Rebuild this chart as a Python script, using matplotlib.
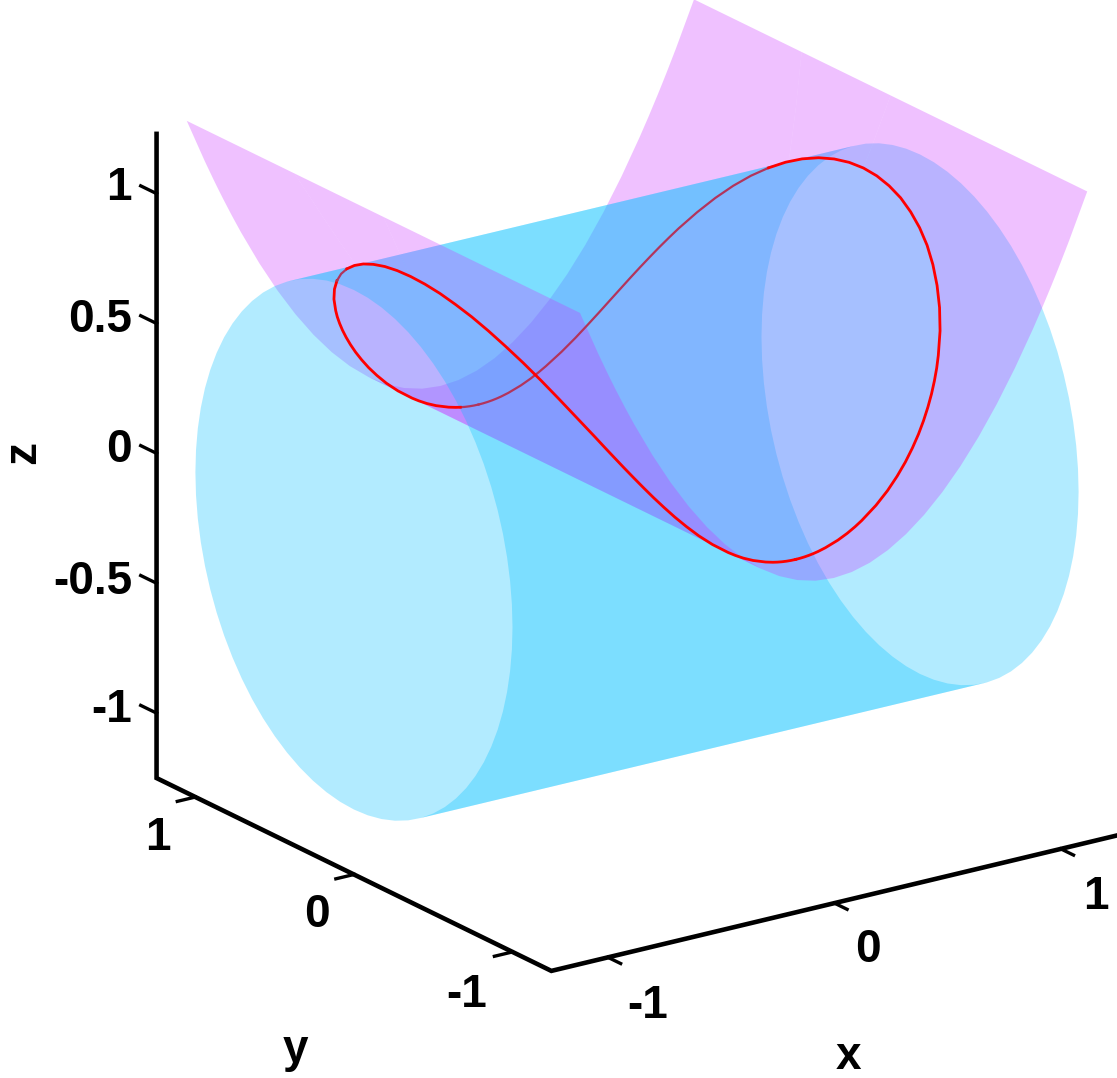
import matplotlib
matplotlib.use("Agg")
import matplotlib.pyplot as plt
from mpl_toolkits.mplot3d.art3d import Poly3DCollection

plt.rcParams['font.family'] = ['Liberation Sans', 'DejaVu Sans']

# cylinder: ends along x and the circle round it
cyl_ends = [-1.25, 1.25]
circle_y = [1, .9962, .9848, .9659, .9397, .9063, .866, .8192, .766, .7071, .6428, .5736, .5, .4226, .342, .2588, .1736, .0872, 0,
            -.0872, -.1736, -.2588, -.342, -.4226, -.5, -.5736, -.6428, -.7071, -.766, -.8192, -.866, -.9063, -.9397, -.9659, -.9848, -.9962, -1,
            -.9962, -.9848, -.9659, -.9397, -.9063, -.866, -.8192, -.766, -.7071, -.6428, -.5736, -.5, -.4226, -.342, -.2588, -.1736, -.0872, 0,
            .0872, .1736, .2588, .342, .4226, .5, .5736, .6428, .7071, .766, .8192, .866, .9063, .9397, .9659, .9848, .9962, 1]
circle_z = [0, .0872, .1736, .2588, .342, .4226, .5, .5736, .6428, .7071, .766, .8192, .866, .9063, .9397, .9659, .9848, .9962, 1,
            .9962, .9848, .9659, .9397, .9063, .866, .8192, .766, .7071, .6428, .5736, .5, .4226, .342, .2588, .1736, .0872, 0,
            -.0872, -.1736, -.2588, -.342, -.4226, -.5, -.5736, -.6428, -.7071, -.766, -.8192, -.866, -.9063, -.9397, -.9659, -.9848, -.9962, -1,
            -.9962, -.9848, -.9659, -.9397, -.9063, -.866, -.8192, -.766, -.7071, -.6428, -.5736, -.5, -.4226, -.342, -.2588, -.1736, -.0872, 0]

# parabolic sheet, one row per x station
sheet_x = [-1.12, -1.04, -1, -.98, -.96, -.92, -.88, -.8, -.72, -.64, -.56, -.48, -.4, -.32, -.24, -.16, -.08, 0,
           .08, .16, .24, .32, .4, .48, .56, .64, .72, .8, .88, .92, .96, .98, 1, 1.04, 1.12]
sheet_z = [1.2544, 1.0816, 1, .9604, .9216, .8464, .7744, .64, .5184, .4096, .3136, .2304, .16, .1024, .0576, .0256, .0064, 0,
           .0064, .0256, .0576, .1024, .16, .2304, .3136, .4096, .5184, .64, .7744, .8464, .9216, .9604, 1, 1.0816, 1.2544]
# where the sheet meets the cylinder
sheet_cut = [0, 0, 0, .2786, .3881, .5326, .6327, .7684, .8551, .9123, .9495, .9731, .9871, .9947, .9983, .9997, 1, 1,
             1, .9997, .9983, .9947, .9871, .9731, .9495, .9123, .8551, .7684, .6327, .5326, .3881, .2786, 0, 0, 0]
# above this y the sheet lies behind the cylinder
sheet_back = [.561, .483, .447, .429, .412, .5326, .6327, .7684, .8551, .9123, .9495, .9731, .9871, .9947, .9983, .9997, 1, 1,
              1, .9997, .9983, .9947, .9871, .9731, .9495, .9123, .8551, .7684, .6327, .5326, .412, .429, .447, .483, .561]
sheet_edge = 1.24

# red curve, a quarter of the loop
quarter_y = [1, 1, 1, 1, 1, 1, .9998, .9994, .9986, .9976, .9962, .9914, .9848, .9763, .9659, .9537, .9397, .9239, .9063, .887, .866, .8434, .8192,
             .766, .7071, .6428, .5736, .5, .4226, .342, .2588, .1736, .0872, 0]
quarter_x = [0, .02, .04, .06, .08, .1, .132, .187, .229, .2641, .295, .3613, .417, .4652, .509, .5484, .585, .6186, .65, .6795, .707, .733, .757,
             .802, .841, .875, .905, .931, .952, .969, .983, .992, .998, 1]
quarter_z = [0, .0004, .0016, .0036, .0064, .01, .0175, .0349, .0523, .0698, .0872, .1305, .1736, .2164, .2588, .3007, .342, .3827, .4226, .4617, .5, .5373, .5736,
             .6428, .7071, .766, .8192, .866, .9063, .9397, .9659, .9848, .9962, 1]

lim = [-1.25, 1.25]
axis_y = 1.245
x_ticks = [-1, 0, 1]
y_ticks = [-1, 0, 1]
z_ticks = [-1, -0.5, 0, 0.5, 1]
z_tick_labels = ['-1', '-0.5', '0', '0.5', '1']
x_tick_labels = ['-1', '0', '1']
y_tick_labels = ['-1', '0', '1']

W, H = 1117, 1078
fig = plt.figure(figsize=(W / 100, H / 100), dpi=100)
side = 1162
ax = fig.add_axes([40.3 / W, -0.7 / H, side / W, side / H], projection='3d', proj_type='ortho')
ax.computed_zorder = False
ax.view_init(elev=20, azim=-125)
ax.set_box_aspect((1, 1, 1))
ax.set_xlim(lim)
ax.set_ylim(lim)
ax.set_zlim(lim)
ax.set_axis_off()

cyan = (0, 192 / 255, 1, 0.3)
pink = (0.8, 0.2, 1, 0.3)


def layer(polys, color, order):
    coll = Poly3DCollection(polys, facecolors=color, edgecolors='none', linewidths=0,
                            antialiased=True, zorder=order)
    ax.add_collection3d(coll)


def half_cylinder(idx):
    top = [(cyl_ends[0], circle_y[j], circle_z[j]) for j in idx]
    bot = [(cyl_ends[1], circle_y[j], circle_z[j]) for j in idx[::-1]]
    return top + bot


# the sheet folds over in the projection at this station, so it is split there
fold = sheet_x.index(-.32)


def strip(lo, hi):
    polys = []
    for rows in (range(0, fold + 1), range(fold, len(sheet_x))):
        rows = [i for i in rows]
        side_a = [(sheet_x[i], lo[i], sheet_z[i]) for i in rows]
        side_b = [(sheet_x[i], hi[i], sheet_z[i]) for i in rows[::-1]]
        polys.append(side_a + side_b)
    return polys


def wedge(lo, hi):
    # only the rows where the wedge has some width, left end and right end
    polys = []
    for rows in (range(0, 6), range(29, len(sheet_x))):
        rows = [i for i in rows]
        side_a = [(sheet_x[i], lo[i], sheet_z[i]) for i in rows]
        side_b = [(sheet_x[i], hi[i], sheet_z[i]) for i in rows[::-1]]
        polys.append(side_a + side_b)
    return polys


edge_hi = [sheet_edge] * len(sheet_x)
edge_lo = [-sheet_edge] * len(sheet_x)
cut_lo = [-v for v in sheet_cut]

# back to front: far wall, sheet behind it is drawn first
layer(strip(sheet_back, edge_hi), pink, 1)
layer([half_cylinder(list(range(49, 73)) + list(range(1, 14)))], cyan, 2)
layer(strip(cut_lo, sheet_cut), pink, 3)
layer([half_cylinder(list(range(13, 50)))], cyan, 4)
layer(strip(edge_lo, cut_lo), pink, 5)
layer(wedge(sheet_cut, sheet_back), pink, 5)

# red curve: bright in front, dull where the surfaces cover it
half_y = quarter_y + [-v for v in quarter_y[-2::-1]]
half_x = quarter_x + quarter_x[-2::-1]
half_z = quarter_z + quarter_z[-2::-1]
neg_x = [-v for v in half_x]
bright = '#ff0000'
dull = '#b2345c'
ax.plot(half_x[:28], half_y[:28], half_z[:28], color=dull, lw=1.6, zorder=6)
ax.plot(half_x[27:], half_y[27:], half_z[27:], color=bright, lw=2, zorder=6)
ax.plot(neg_x[:5], half_y[:5], half_z[:5], color=dull, lw=1.6, zorder=6)
ax.plot(neg_x[4:26], half_y[4:26], half_z[4:26], color=bright, lw=2, zorder=6)
ax.plot(neg_x[25:28], half_y[25:28], half_z[25:28], color=dull, lw=1.6, zorder=6)
ax.plot(neg_x[27:], half_y[27:], half_z[27:], color=bright, lw=2, zorder=6)

# axes drawn by hand along the box edges
ax.plot([lim[0], lim[0], lim[0], lim[1]], [axis_y, axis_y, -axis_y, -axis_y], [1.23, lim[0], lim[0], lim[0]],
        color='k', lw=3.3, solid_joinstyle='miter', zorder=7)
for v in z_ticks:
    ax.plot([lim[0], lim[0]], [axis_y, axis_y + 0.1], [v, v], color='k', lw=2.4, zorder=7)
for v in y_ticks:
    ax.plot([lim[0], lim[0] - 0.08], [v, v], [lim[0], lim[0]], color='k', lw=2.4, zorder=7)
for v in x_ticks:
    ax.plot([v, v], [-axis_y, -axis_y - 0.08], [lim[0], lim[0]], color='k', lw=2.4, zorder=7)


def label(px, py, s, **kw):
    fig.text(px / W, 1 - py / H, s, fontsize=33, fontweight='bold', color='k', va='center', **kw)


for s, py in zip(z_tick_labels, [710, 582, 450, 320, 188]):
    label(132, py, s, ha='right')
for s, px, py in zip(y_tick_labels, [467, 317, 158], [995, 915, 838]):
    label(px, py, s, ha='center')
for s, px, py in zip(x_tick_labels, [648, 868, 1096], [1006, 950, 897]):
    label(px, py, s, ha='center')
label(295, 1050, 'y', ha='center')
label(848, 1057, 'x', ha='center')
label(23, 452, 'z', ha='center', rotation=90)

fig.savefig('out.png', dpi=100)
